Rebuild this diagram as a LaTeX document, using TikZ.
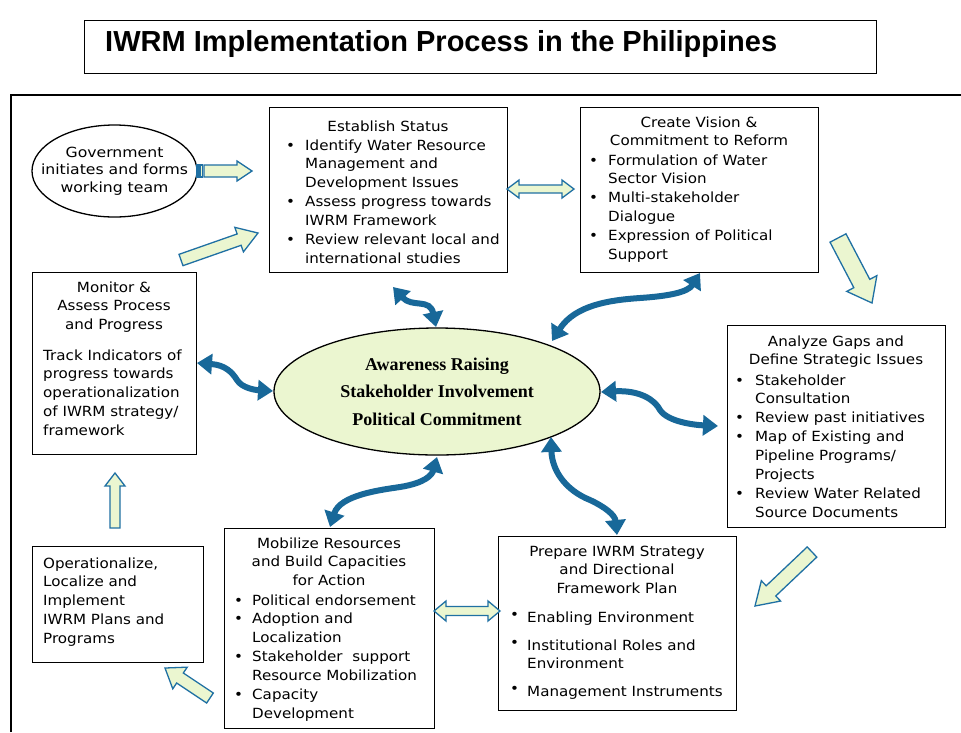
\documentclass[tikz,border=0pt]{standalone}
\usepackage{fontspec}
\setmainfont{DejaVu Sans}[FakeStretch=1.08]
\newfontfamily\govfont{DejaVu Sans}[FakeStretch=1.12]
\newfontfamily\titlefont{Liberation Sans}
\newfontfamily\serifb{Liberation Serif}
\usetikzlibrary{calc,arrows.meta,shapes.geometric}
\definecolor{wblue}{RGB}{24,104,153}
\definecolor{ablue}{RGB}{31,112,163}
\definecolor{lgreen}{RGB}{235,246,208}
\newcommand\ctab[1]{\begin{tabular}[t]{@{}c@{}}#1\end{tabular}}
\newcommand\ltab[1]{\begin{tabular}[t]{@{}l@{}}#1\end{tabular}}
\newcommand\blst[1]{\begin{tabular}[t]{@{}l@{}l@{}}#1\end{tabular}}
\newcommand\bul[1][19pt]{\makebox[#1][l]{\textbullet}}
\tikzset{
  box/.style={draw=black, line width=1.3pt, inner sep=0pt, anchor=north west, fill=white},
  txt/.style={anchor=base west, inner sep=0pt, font=\fontsize{14}{18.9}\selectfont},
  ctxt/.style={anchor=base, inner sep=0pt, font=\fontsize{14}{18.9}\selectfont},
  blockarr/.style={draw=ablue, fill=lgreen, line width=1.3pt, line join=miter},
  wavy/.style={draw=wblue, line width=6pt, {Triangle[width=20pt,length=15pt]}-{Triangle[width=20pt,length=15pt]}}
}
% tail, tip, shaft half width, head half width, head length
\newcommand\blockarrow[5]{%
  \coordinate (bhA) at (#1); \coordinate (bhB) at (#2);
  \coordinate (bhH) at ($(bhB)!#5!(bhA)$);
  \draw[blockarr] ($(bhA)!#3!90:(bhB)$) -- ($(bhH)!#3!-90:(bhA)$) -- ($(bhH)!#4!-90:(bhA)$)
    -- (bhB) -- ($(bhH)!#4!90:(bhA)$) -- ($(bhH)!#3!90:(bhA)$) -- ($(bhA)!#3!-90:(bhB)$) -- cycle;}
% end A, end B, shaft half width, head half width, head length
\newcommand\dblarrow[5]{%
  \coordinate (bhA) at (#1); \coordinate (bhB) at (#2);
  \coordinate (bhP) at ($(bhA)!#5!(bhB)$);
  \coordinate (bhQ) at ($(bhB)!#5!(bhA)$);
  \draw[blockarr] (bhA) -- ($(bhP)!#4!90:(bhB)$) -- ($(bhP)!#3!90:(bhB)$) -- ($(bhQ)!#3!-90:(bhA)$)
    -- ($(bhQ)!#4!-90:(bhA)$) -- (bhB) -- ($(bhQ)!#4!90:(bhA)$) -- ($(bhQ)!#3!90:(bhA)$)
    -- ($(bhP)!#3!-90:(bhB)$) -- ($(bhP)!#4!-90:(bhB)$) -- cycle;}
\begin{document}
\begin{tikzpicture}[x=1pt,y=-1pt]
\useasboundingbox[fill=white] (0,0) rectangle (961,732);
% outer frame
\draw[line width=1.4pt] (11,732) -- (11,95) -- (961,95);
% title
\node[box, minimum width=792pt, minimum height=53pt] (title) at (84,20) {};
\node[anchor=base west, inner sep=0pt, font=\titlefont\bfseries\fontsize{29}{34}\selectfont] at (105,51.5) {IWRM Implementation Process in the Philippines};

% government ellipse
\node[ellipse, draw, line width=1.3pt, minimum width=165pt, minimum height=92pt, inner sep=0pt] (gov) at (114.5,171) {};
\node[align=center, inner sep=0pt, font=\govfont\fontsize{14}{17.5}\selectfont] at (gov.center) {Government\\initiates and forms\\working team};

% Establish Status
\node[box, minimum width=238pt, minimum height=165pt] (est) at (269,107) {};
\node[ctxt] at (388,131) {Establish Status};
\node[txt] at (286,150) {\blst{\bul & Identify Water Resource\\ & Management and\\ & Development Issues\\
 \bul & Assess progress towards\\ & IWRM Framework\\ \bul & Review relevant local and\\ & international studies}};

% Create Vision
\node[box, minimum width=238pt, minimum height=165pt] (cv) at (580,107) {};
\node[ctxt] at (699,127) {\ctab{Create Vision \&\\Commitment to Reform}};
\node[txt] at (589,165) {\blst{\bul & Formulation of Water\\ & Sector Vision\\ \bul & Multi-stakeholder\\ & Dialogue\\
 \bul & Expression of Political\\ & Support}};

% Analyze Gaps
\node[box, minimum width=218pt, minimum height=202pt] (ag) at (727,325) {};
\node[ctxt] at (836,346) {\ctab{Analyze Gaps and\\Define Strategic Issues}};
\node[txt] at (735,385) {\blst{\bul[20pt] & Stakeholder\\ & Consultation\\ \bul[20pt] & Review past initiatives\\
 \bul[20pt] & Map of Existing and\\ & Pipeline Programs/\\ & Projects\\ \bul[20pt] & Review Water Related\\ & Source Documents}};

% Monitor
\node[box, minimum width=164pt, minimum height=182pt] (mon) at (32,272) {};
\node[ctxt] at (114,292) {\ctab{Monitor \&\\Assess Process\\and Progress}};
\node[txt] at (43,360) {\ltab{Track Indicators of\\progress towards\\operationalization\\of IWRM strategy/\\framework}};

% Operationalize
\node[box, minimum width=171pt, minimum height=116pt] (op) at (32,546) {};
\node[txt] at (43,568) {\ltab{Operationalize,\\Localize and\\Implement\\IWRM Plans and\\Programs}};

% Mobilize
\node[box, minimum width=210pt, minimum height=200pt] (mob) at (224,528) {};
\node[ctxt] at (329,548) {\ctab{Mobilize Resources\\and Build Capacities\\for Action}};
\node[txt] at (234,605) {\blst{\bul[18pt] & Political endorsement\\ \bul[18pt] & Adoption and\\ & Localization\\
 \bul[18pt] & Stakeholder\ \ support\\ & Resource Mobilization\\ \bul[18pt] & Capacity\\ & Development}};

% Prepare
\node[box, minimum width=238pt, minimum height=174pt] (prep) at (498,536) {};
\node[ctxt] at (617,556) {\ctab{Prepare IWRM Strategy\\and Directional\\Framework Plan}};
\node[txt] at (510,622) {\blst{\makebox[17pt][l]{\raisebox{3pt}{\textbullet}} & Enabling Environment}};
\node[txt] at (510,650) {\blst{\makebox[17pt][l]{\raisebox{3pt}{\textbullet}} & Institutional Roles and\\ & Environment}};
\node[txt] at (510,696) {\blst{\makebox[17pt][l]{\raisebox{3pt}{\textbullet}} & Management Instruments}};

% central ellipse
\node[ellipse, draw, fill=lgreen, line width=1.3pt, minimum width=326pt, minimum height=127pt, inner sep=0pt,
      align=center, font=\serifb\bfseries\fontsize{18}{27.5}\selectfont] (ctr) at (437,391.5)
      {Awareness Raising\\Stakeholder Involvement\\Political Commitment};

% block arrows
\draw[blockarr] (197,165) rectangle (199,177);
\draw[blockarr] (200.5,165) rectangle (202.5,177);
\coordinate (g1) at (204,171); \coordinate (g2) at (252,171);
\blockarrow{g1}{g2}{6pt}{10pt}{15pt}
\coordinate (m1) at (181,260); \coordinate (m2) at (258,233);
\blockarrow{m1}{m2}{6pt}{13pt}{20pt}
\coordinate (e1) at (507,189); \coordinate (e2) at (574,189);
\dblarrow{e1}{e2}{4pt}{9pt}{12pt}
\coordinate (c1) at (838,238); \coordinate (c2) at (872,303);
\blockarrow{c1}{c2}{9pt}{17pt}{22pt}
\coordinate (a1) at (812,552); \coordinate (a2) at (755,606);
\blockarrow{a1}{a2}{7pt}{14pt}{22pt}
\coordinate (p1) at (434,611); \coordinate (p2) at (500,611);
\dblarrow{p1}{p2}{4.5pt}{10pt}{12pt}
\coordinate (o1) at (210,698); \coordinate (o2) at (165,668);
\blockarrow{o1}{o2}{6pt}{13pt}{18pt}
\coordinate (u1) at (115,528); \coordinate (u2) at (115,473);
\blockarrow{u1}{u2}{5pt}{10pt}{13pt}

% wavy double arrows
\coordinate (w1a) at (393,287); \coordinate (w1b) at (436,327);
\draw[wavy] (w1a) .. controls (412,308) and (430,298) .. (w1b);
\coordinate (w2a) at (552,341); \coordinate (w2b) at (700,273);
\draw[wavy] (w2a) .. controls (575,305) and (610,300) .. (640,298) .. controls (670,296) and (688,292) .. (w2b);
\coordinate (w3a) at (197,363); \coordinate (w3b) at (273,391);
\draw[wavy] (w3a) .. controls (225,365) and (232,372) .. (237,380) .. controls (242,388) and (255,390) .. (w3b);
\coordinate (w4a) at (601,392); \coordinate (w4b) at (718,426);
\draw[wavy] (w4a) .. controls (640,390) and (655,400) .. (660,410) .. controls (668,422) and (695,425) .. (w4b);
\coordinate (w5a) at (437,457); \coordinate (w5b) at (330,527);
\draw[wavy] (w5a) .. controls (432,475) and (425,483) .. (400,487) .. controls (380,490) and (340,495) .. (w5b);
\coordinate (w6a) at (551,437); \coordinate (w6b) at (617,535);
\draw[wavy] (w6a) .. controls (552,470) and (565,490) .. (590,500) .. controls (605,507) and (615,515) .. (w6b);
\end{tikzpicture}
\end{document}
